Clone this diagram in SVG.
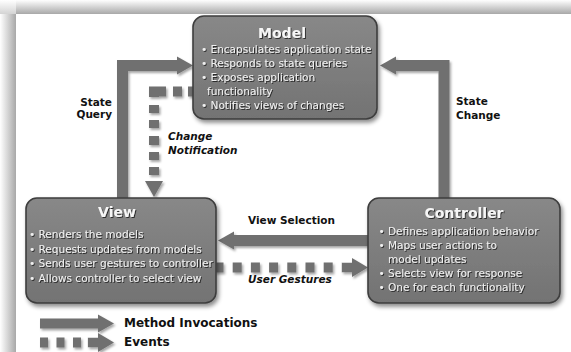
<svg xmlns="http://www.w3.org/2000/svg" width="571" height="352" viewBox="0 0 571 352">
<defs>
  <style>
    .node-box { fill: url(#boxGrad); stroke: #3e3e3e; stroke-width: 1.6; }
    .title { font-family: "DejaVu Sans", sans-serif; font-weight: bold; font-size: 14px; fill: #f6f6f6; text-anchor: middle; }
    .bullet { font-family: "DejaVu Sans", sans-serif; font-size: 10.5px; fill: #f0f0f0; }
    .label { font-family: "DejaVu Sans", sans-serif; font-weight: bold; font-size: 10.5px; fill: #111; }
    .label-i { font-family: "DejaVu Sans", sans-serif; font-weight: bold; font-style: italic; font-size: 10.5px; fill: #111; }
    .legend-text { font-family: "DejaVu Sans", sans-serif; font-weight: bold; font-size: 12px; fill: #111; }
    .solid { fill: none; stroke: #6f6f6f; stroke-width: 11; stroke-linejoin: miter; }
    .event { fill: none; stroke: #6f6f6f; stroke-width: 10; stroke-linejoin: miter; }
  </style>
  <linearGradient id="boxGrad" x1="0" y1="0" x2="0" y2="1">
    <stop offset="0" stop-color="#888888"/>
    <stop offset="1" stop-color="#737373"/>
  </linearGradient>
  <linearGradient id="topShade" x1="0" y1="0" x2="0" y2="1">
    <stop offset="0" stop-color="#ffffff"/>
    <stop offset="1" stop-color="#a8a8a8"/>
  </linearGradient>
  <linearGradient id="leftShade" x1="0" y1="0" x2="1" y2="0">
    <stop offset="0" stop-color="#ffffff"/>
    <stop offset="1" stop-color="#a8a8a8"/>
  </linearGradient>
  <filter id="boxShadow" filterUnits="userSpaceOnUse" x="0" y="0" width="571" height="352">
    <feDropShadow dx="2" dy="3" stdDeviation="2" flood-color="#000" flood-opacity="0.45"/>
  </filter>
  <filter id="arrowShadow" filterUnits="userSpaceOnUse" x="0" y="0" width="571" height="352">
    <feDropShadow dx="1.5" dy="2" stdDeviation="1.2" flood-color="#000" flood-opacity="0.35"/>
  </filter>
  <filter id="textShadow" filterUnits="userSpaceOnUse" x="0" y="0" width="571" height="352">
    <feDropShadow dx="1" dy="1" stdDeviation="0.4" flood-color="#222" flood-opacity="0.9"/>
  </filter>
  <marker id="head" markerUnits="userSpaceOnUse" markerWidth="17" markerHeight="20" refX="0" refY="9.5" orient="auto" overflow="visible">
    <path d="M0,0.5 L16,9.5 L0,18.5 Z" fill="#6f6f6f"/>
  </marker>
  <marker id="eventHead" markerUnits="userSpaceOnUse" markerWidth="27" markerHeight="20" refX="0" refY="9.5" orient="auto" overflow="visible">
    <path d="M0,4.8 H10 V0 L26,9.5 L10,19 V14.2 H0 Z" fill="#6f6f6f"/>
  </marker>
</defs>

<!-- background frame -->
<rect x="0" y="0" width="571" height="352" fill="#ffffff"/>
<rect x="16" y="0" width="555" height="14" fill="url(#topShade)"/>
<rect x="0" y="14" width="16" height="338" fill="url(#leftShade)"/>
<rect x="0" y="0" width="16" height="14" fill="url(#topShade)" opacity="0.5"/>

<g id="connectors" filter="url(#arrowShadow)">
  <path id="state-query" class="solid" d="M122.5,198 V65.5 H177" marker-end="url(#head)"/>
  <path id="state-change" class="solid" d="M444,198 V65.5 H396" marker-end="url(#head)"/>
  <path id="view-selection" class="solid" d="M368,240.5 H234" marker-end="url(#head)"/>
  <path id="change-notification" class="event" d="M194,91.5 H154 V181" stroke-dasharray="6 6 9 7 17.5 8 8 7 8 8 9 7 8 7 8 6" marker-end="url(#head)"/>
  <path id="user-gestures" class="event" d="M214.5,267.5 H342" stroke-dasharray="9 9.2"/>
  <path class="event" d="M341.9,267.5 H342" marker-end="url(#eventHead)"/>
</g>

<g id="model" filter="url(#boxShadow)">
  <rect class="node-box" x="193" y="16" width="184" height="103" rx="11"/>
  <g filter="url(#textShadow)">
    <text class="title" x="282" y="37.5">Model</text>
    <text class="bullet" x="201" y="53">• Encapsulates application state</text>
    <text class="bullet" x="201" y="67">• Responds to state queries</text>
    <text class="bullet" x="201" y="81">• Exposes application</text>
    <text class="bullet" x="207" y="95">functionality</text>
    <text class="bullet" x="201" y="109">• Notifies views of changes</text>
  </g>
</g>

<g id="view" filter="url(#boxShadow)">
  <rect class="node-box" x="26" y="198" width="190" height="105" rx="11"/>
  <g filter="url(#textShadow)">
    <text class="title" x="117" y="217">View</text>
    <text class="bullet" x="29" y="238">• Renders the models</text>
    <text class="bullet" x="29" y="252.5">• Requests updates from models</text>
    <text class="bullet" x="29" y="267">• Sends user gestures to controller</text>
    <text class="bullet" x="29" y="281.5">• Allows controller to select view</text>
  </g>
</g>

<g id="controller" filter="url(#boxShadow)">
  <rect class="node-box" x="368" y="198" width="192" height="105" rx="11"/>
  <g filter="url(#textShadow)">
    <text class="title" x="464" y="218">Controller</text>
    <text class="bullet" x="378.5" y="235">• Defines application behavior</text>
    <text class="bullet" x="378.5" y="249">• Maps user actions to</text>
    <text class="bullet" x="388" y="263">model updates</text>
    <text class="bullet" x="378.5" y="277">• Selects view for response</text>
    <text class="bullet" x="378.5" y="291">• One for each functionality</text>
  </g>
</g>

<g id="labels">
  <text class="label" x="112" y="106" text-anchor="end">State</text>
  <text class="label" x="112" y="118" text-anchor="end">Query</text>
  <text class="label" x="456" y="105">State</text>
  <text class="label" x="456" y="119">Change</text>
  <text class="label-i" x="168" y="140">Change</text>
  <text class="label-i" x="168" y="154">Notification</text>
  <text class="label" x="248" y="224">View Selection</text>
  <text class="label-i" x="248" y="282.5">User Gestures</text>
</g>

<g id="legend">
  <g filter="url(#arrowShadow)">
    <path class="event" d="M40,323.5 H98" marker-end="url(#head)"/>
    <path class="event" d="M40,342.5 H88" stroke-dasharray="8 8.5" stroke-width="9.5"/>
    <path class="event" d="M87.9,342.5 H88" marker-end="url(#eventHead)"/>
  </g>
  <text class="legend-text" x="124" y="327">Method Invocations</text>
  <text class="legend-text" x="124" y="346">Events</text>
</g>
</svg>
